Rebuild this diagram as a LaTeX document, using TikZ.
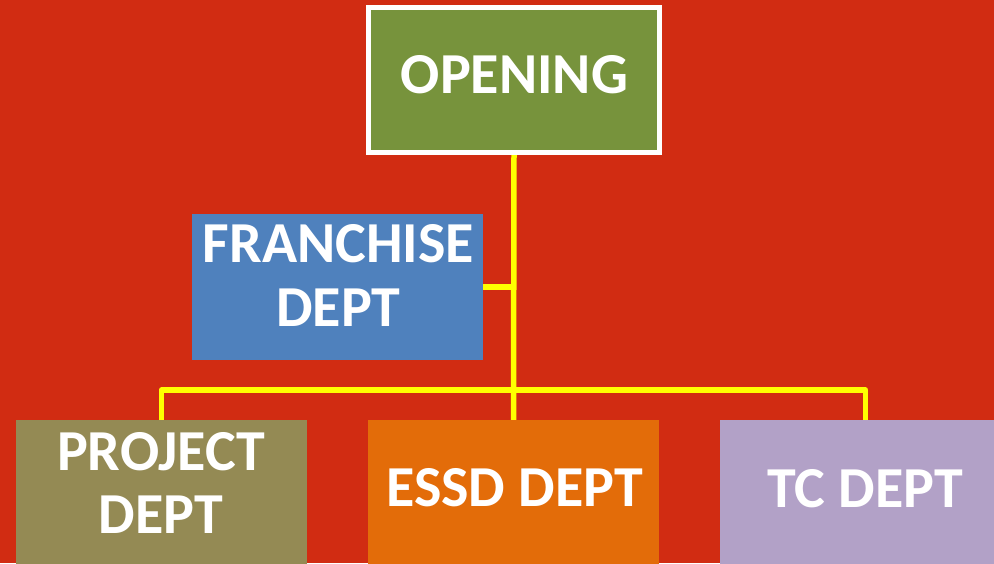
\documentclass[tikz,border=0pt]{standalone}
\usepackage{fontspec}
\setmainfont{Carlito}
\definecolor{bgred}{HTML}{D12C12}
\definecolor{opengreen}{HTML}{77933C}
\definecolor{franblue}{HTML}{4F81BD}
\definecolor{projolive}{HTML}{948A54}
\definecolor{essdorange}{HTML}{E36C09}
\definecolor{tclav}{HTML}{B2A1C7}
\definecolor{connyellow}{HTML}{FFFF00}
\tikzset{
  box/.style={rectangle, inner sep=0pt, draw=none},
  lbl/.style={anchor=base, text=white, font=\bfseries\fontsize{58}{64}\selectfont, inner sep=0pt, align=center},
  conn/.style={draw=connyellow, line width=5.5pt, line join=round}
}
\begin{document}
\begin{tikzpicture}[x=1pt,y=-1pt]
\fill[bgred] (0,0) rectangle (994,563);
\useasboundingbox (0,0) rectangle (994,563);
\begin{scope}
\clip (0,0) rectangle (994,563);
% boxes
\node[box, fill=opengreen, draw=white, line width=5pt, minimum width=291pt, minimum height=145pt] (open) at (514,80) {};
\node[box, fill=franblue, minimum width=291pt, minimum height=146pt] (fran) at (337.5,287) {};
\node[box, fill=projolive, minimum width=291pt, minimum height=160pt] (proj) at (161.5,500) {};
\node[box, fill=essdorange, minimum width=291pt, minimum height=160pt] (essd) at (513.5,500) {};
\node[box, fill=tclav, minimum width=291pt, minimum height=160pt] (tc) at (865.5,500) {};
% connectors
\coordinate (bus) at (514,390);
\draw[conn] (open.south) -- (essd.north);
\draw[conn] (fran.east) -- (open.south |- fran.east);
\draw[conn] (proj.north) |- (bus) -| (tc.north);
% labels
\node[lbl] (openT) at (514.5,93) {OPENING};
\node[lbl] (franT1) at (338.5,262) {FRANCHISE};
\node[lbl] (franT2) at (338.5,326) {DEPT};
\node[lbl] (projT1) at (161,470) {PROJECT};
\node[lbl] (projT2) at (161,533) {DEPT};
\node[lbl] (essdT) at (514.5,506) {ESSD DEPT};
\node[lbl] (tcT) at (865,507) {TC DEPT};
\end{scope}
\end{tikzpicture}
\end{document}
